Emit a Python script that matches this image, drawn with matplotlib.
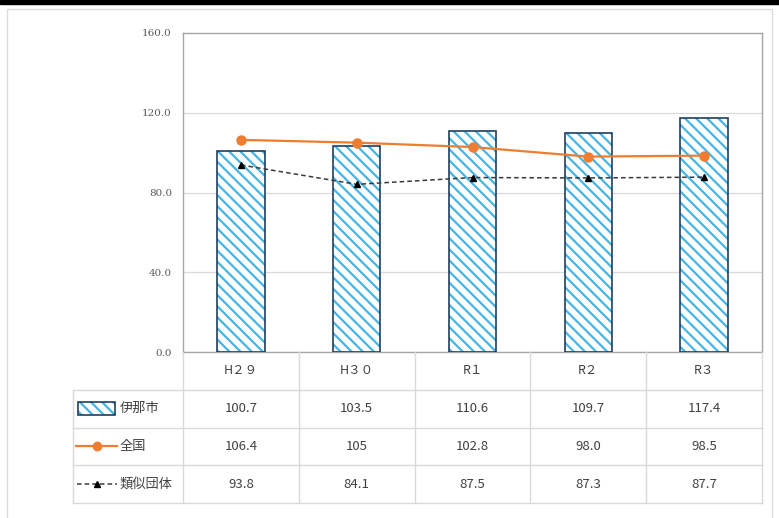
# chart: 伊那市 vs 全国 vs 類似団体, bars + lines + data table

import matplotlib.pyplot as plt
from matplotlib.patches import Rectangle
import numpy as np

plt.rcParams['font.family'] = ['Noto Sans CJK JP', 'DejaVu Sans']
plt.rcParams['hatch.linewidth'] = 1.6

years = ["H２９", "H３０", "R１", "R２", "R３"]
ina = [100.7, 103.5, 110.6, 109.7, 117.4]
national = [106.4, 105, 102.8, 98.0, 98.5]
similar = [93.8, 84.1, 87.5, 87.3, 87.7]
series_names = ["伊那市", "全国", "類似団体"]
ina_text = ["100.7", "103.5", "110.6", "109.7", "117.4"]
national_text = ["106.4", "105", "102.8", "98.0", "98.5"]
similar_text = ["93.8", "84.1", "87.5", "87.3", "87.7"]

W, H = 779, 518
hatch_col = "#46b4e4"
edge_col = "#1f3f5f"
orange = "#ED7D31"
dash_col = "#3a3a3a"
grid_col = "#d9d9d9"
text_col = "#404040"

fig = plt.figure(figsize=(W / 100, H / 100), dpi=100)

# frame and top black rule
fig.patches.append(Rectangle((0, 1 - 4 / H), 1, 4 / H, transform=fig.transFigure,
                             color="black", zorder=0))
fig.patches.append(Rectangle((7 / W, -0.01), (772 - 7) / W, (H - 9) / H + 0.01,
                             transform=fig.transFigure, fill=False,
                             edgecolor="#dcdcdc", lw=1, zorder=0))

# main plot
left, right, top, bottom = 183, 762, 33, 352
ax = fig.add_axes([left / W, 1 - bottom / H, (right - left) / W, (bottom - top) / H])
x = np.arange(len(years))
ax.bar(x, ina, width=0.41, color="white", edgecolor=hatch_col, hatch="\\\\\\",
       linewidth=0, zorder=2)
ax.bar(x, ina, width=0.41, fill=False, edgecolor=edge_col, linewidth=1.2, zorder=3)
ax.plot(x, national, color=orange, lw=1.6, marker="o", ms=6.5, zorder=4)
ax.plot(x, similar, color=dash_col, lw=1.1, ls=(0, (3, 2)), marker="^", ms=4.5,
        markerfacecolor="black", markeredgecolor="black", zorder=4)
ax.set_xlim(-0.5, len(years) - 0.5)
ax.set_ylim(0, 160)
ax.set_yticks([0, 40, 80, 120, 160])
ax.set_yticklabels([f"{v:.1f}" for v in [0, 40, 80, 120, 160]],
                   family="DejaVu Serif", fontsize=7.5, color="#595959")
ax.tick_params(axis="y", length=0, pad=8)
ax.set_xticks([])
ax.yaxis.grid(True, color=grid_col, lw=0.9)
ax.set_axisbelow(True)
for s in ax.spines.values():
    s.set_color("#a6a6a6")
    s.set_linewidth(1.0)

# data table below
tleft, tbottom = 73, 503
lab_w = (left - tleft) / ((right - left) / len(years))
tab = fig.add_axes([tleft / W, 1 - tbottom / H, (right - tleft) / W, (tbottom - bottom) / H])
tab.set_xlim(-0.5 - lab_w, len(years) - 0.5)
tab.set_ylim(4, 0)
tab.axis("off")
for k in range(len(years) + 1):
    tab.plot([k - 0.5, k - 0.5], [0, 4], color=grid_col, lw=1, clip_on=False)
tab.plot([-0.5 - lab_w] * 2, [1, 4], color=grid_col, lw=1, clip_on=False)
for r in range(1, 5):
    tab.plot([-0.5 - lab_w, len(years) - 0.5], [r, r], color=grid_col, lw=1, clip_on=False)

for i, yr in enumerate(years):
    tab.text(i, 0.5, yr, ha="center", va="center", fontsize=9, color=text_col)
for r, row in enumerate([ina_text, national_text, similar_text], start=1):
    for i, s in enumerate(row):
        tab.text(i, r + 0.5, s, ha="center", va="center", fontsize=9.5, color=text_col)

# legend keys inside the row label cells
x0 = -0.5 - lab_w
u = 1 / ((right - left) / len(years))  # one pixel in data units
tab.add_patch(Rectangle((x0 + 5 * u, 1.33), 37 * u, 0.34, facecolor="white",
                        edgecolor=hatch_col, hatch="\\\\\\", lw=0, zorder=2))
tab.add_patch(Rectangle((x0 + 5 * u, 1.33), 37 * u, 0.34, fill=False,
                        edgecolor=edge_col, lw=1.2, zorder=3))
tab.plot([x0 + 3 * u, x0 + 44 * u], [2.5, 2.5], color=orange, lw=1.6)
tab.plot([x0 + 23.5 * u], [2.5], marker="o", ms=6, color=orange)
tab.plot([x0 + 4 * u, x0 + 44 * u], [3.5, 3.5], color=dash_col, lw=1.1, ls=(0, (3, 2)))
tab.plot([x0 + 24 * u], [3.5], marker="^", ms=4.5, color="black")
for r, name in enumerate(series_names, start=1):
    tab.text(x0 + 47 * u, r + 0.5, name, ha="left", va="center", fontsize=9.5,
             color=text_col)

fig.savefig("out.png", dpi=100)
